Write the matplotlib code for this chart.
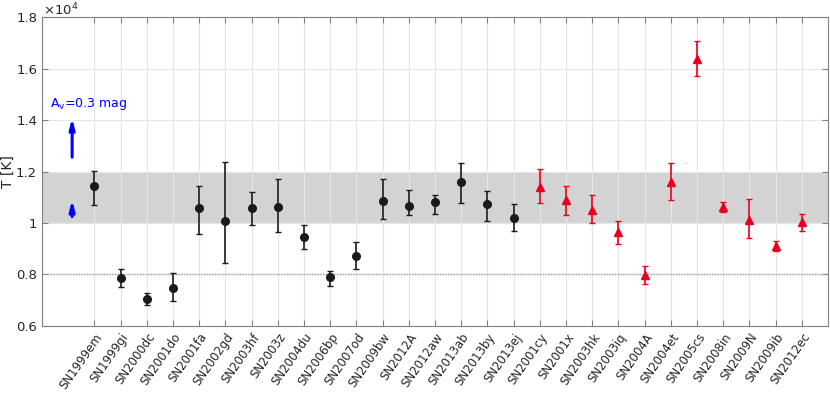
import numpy as np
import matplotlib
matplotlib.use("Agg")
import matplotlib.pyplot as plt

# temperatures in units of 1e4 K, with asymmetric errors (upper, lower bound)
names_black = ["SN1999em", "SN1999gi", "SN2000dc", "SN2001do", "SN2001fa", "SN2002gd",
               "SN2003hf", "SN2003z", "SN2004du", "SN2006bp", "SN2007od", "SN2009bw",
               "SN2012A", "SN2012aw", "SN2013ab", "SN2013by", "SN2013ej"]
t_black = [1.144, 0.786, 0.704, 0.749, 1.058, 1.007, 1.058, 1.063, 0.945, 0.792, 0.871,
           1.087, 1.065, 1.083, 1.160, 1.074, 1.019]
hi_black = [1.203, 0.821, 0.727, 0.805, 1.145, 1.238, 1.122, 1.170, 0.994, 0.815, 0.927,
            1.172, 1.127, 1.110, 1.232, 1.126, 1.073]
lo_black = [1.070, 0.753, 0.682, 0.697, 0.959, 0.845, 0.991, 0.964, 0.898, 0.755, 0.820,
            1.014, 1.031, 1.034, 1.078, 1.007, 0.968]

names_red = ["SN2001cy", "SN2001x", "SN2003hk", "SN2003iq", "SN2004A", "SN2004et",
             "SN2005cs", "SN2008in", "SN2009N", "SN2009ib", "SN2012ec"]
t_red = [1.141, 1.088, 1.052, 0.964, 0.797, 1.159, 1.638, 1.061, 1.013, 0.912, 1.005]
hi_red = [1.209, 1.145, 1.108, 1.007, 0.832, 1.234, 1.708, 1.080, 1.094, 0.929, 1.036]
lo_red = [1.079, 1.030, 0.999, 0.917, 0.762, 1.089, 1.570, 1.042, 0.941, 0.891, 0.969]

yticks = [0.6, 0.8, 1.0, 1.2, 1.4, 1.6, 1.8]
ytick_labels = ["0.6", "0.8", "1", "1.2", "1.4", "1.6", "1.8"]

fig = plt.figure(figsize=(8.3, 3.97), dpi=100)
ax = fig.add_axes([0.0506, 0.179, 0.947, 0.778])

names = names_black + names_red
xb = np.arange(1, len(names_black) + 1)
xr = np.arange(len(names_black) + 1, len(names) + 1)

ax.axhspan(1.0, 1.2, color="#d3d3d3", zorder=0, lw=0)
ax.axhline(0.8, color="#a0a0a0", ls=(0, (1, 1)), lw=1.0, zorder=1)

tb = np.array(t_black)
ax.errorbar(xb, tb, yerr=[tb - np.array(lo_black), np.array(hi_black) - tb],
            fmt="o", color="#1a1a1a", ms=5.5, capsize=2.5, elinewidth=1.2,
            capthick=1.0, zorder=3)
tr = np.array(t_red)
ax.errorbar(xr, tr, yerr=[tr - np.array(lo_red), np.array(hi_red) - tr],
            fmt="^", color="#e8001c", ms=5.5, capsize=2.5, elinewidth=1.2,
            capthick=1.0, zorder=3)

# extinction arrows
ax.annotate("", xy=(0.15, 1.42), xytext=(0.15, 1.245),
            arrowprops=dict(arrowstyle="-|>,head_length=0.6,head_width=0.15",
                            color="blue", lw=2.2))
ax.annotate("", xy=(0.15, 1.102), xytext=(0.15, 1.014),
            arrowprops=dict(arrowstyle="-|>,head_length=0.6,head_width=0.15",
                            color="blue", lw=2.2))
ax.text(-0.68, 1.462, r"A$_\mathrm{v}$=0.3 mag", color="blue", fontsize=9,
        va="center", ha="left")

ax.set_xlim(-1, 29)
ax.set_ylim(0.6, 1.8)
ax.set_xticks(np.arange(1, len(names) + 1))
ax.set_xticklabels(names, rotation=55, ha="right", rotation_mode="anchor",
                   fontsize=8.5, color="#262626")
ax.set_yticks(yticks)
ax.set_yticklabels(ytick_labels, fontsize=9.5, color="#262626")
ax.tick_params(direction="in", top=True, right=True, length=4, color="#808080")
ax.grid(True, color="#e6e6e6", lw=0.8, zorder=0)
ax.set_axisbelow(True)
for s in ax.spines.values():
    s.set_color("#808080")
    s.set_linewidth(0.8)

ax.set_ylabel("T [K]", fontsize=10, color="#262626")
ax.yaxis.set_label_coords(-0.034, 0.5)
fig.text(0.052, 0.962, r"$\times$10$^{4}$", fontsize=9.5, color="#262626",
         ha="left", va="baseline")

fig.savefig("out.png", dpi=100)
